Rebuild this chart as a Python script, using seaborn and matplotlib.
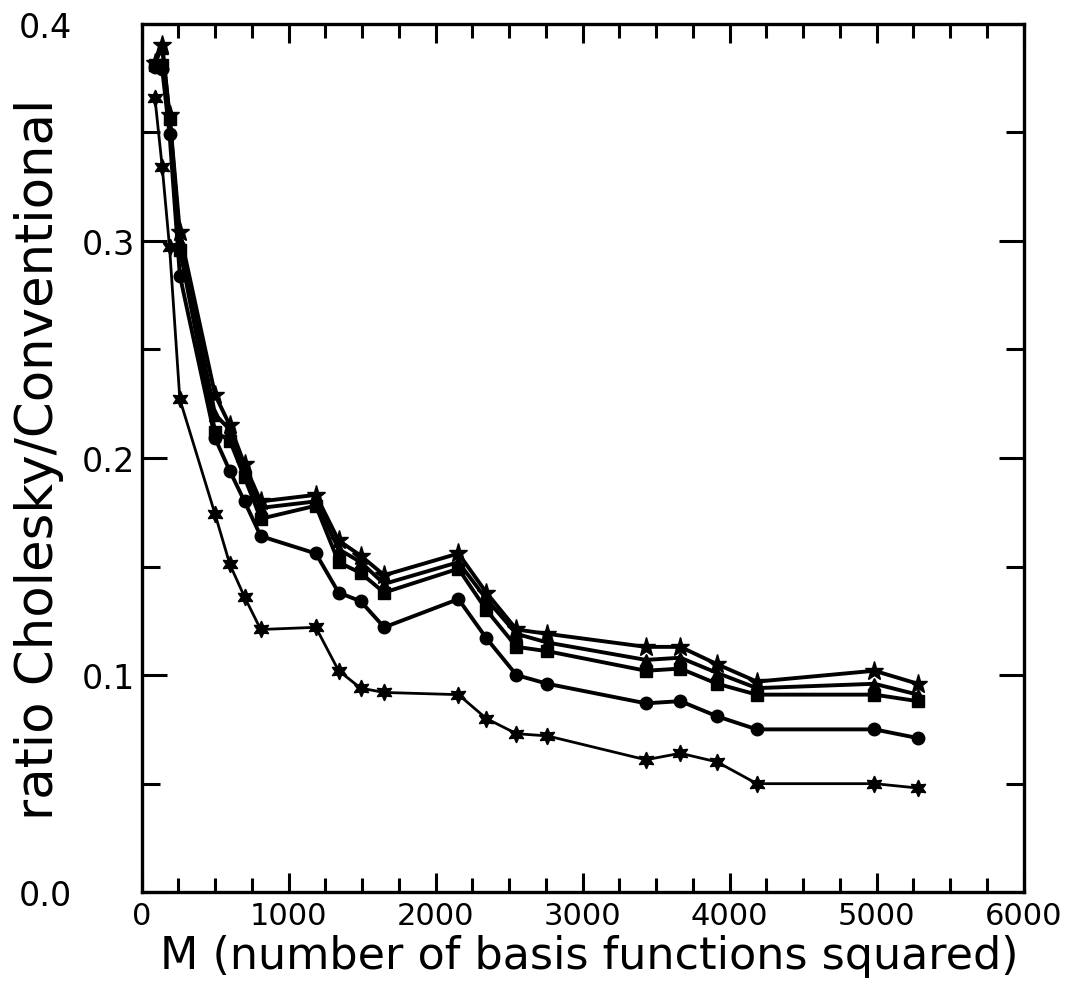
import matplotlib
matplotlib.use("Agg")
import matplotlib.pyplot as plt
import seaborn as sns
import pandas as pd
from matplotlib.ticker import MultipleLocator

# Data
M = [90, 140, 190, 260, 500, 600, 700, 810, 1185, 1340, 1490, 1650,
     2155, 2345, 2550, 2760, 3430, 3665, 3915, 4185, 4985, 5280]

ratio_star = [0.382, 0.390, 0.358, 0.304, 0.229, 0.215, 0.197, 0.180, 0.183, 0.162, 0.155,
              0.146, 0.156, 0.138, 0.121, 0.119, 0.113, 0.113, 0.105, 0.097, 0.102, 0.096]
ratio_triangle = [0.382, 0.389, 0.357, 0.300, 0.220, 0.213, 0.194, 0.177, 0.180, 0.158, 0.152,
                  0.142, 0.152, 0.135, 0.119, 0.115, 0.107, 0.108, 0.101, 0.094, 0.096, 0.091]
ratio_square = [0.381, 0.381, 0.356, 0.296, 0.212, 0.208, 0.191, 0.172, 0.178, 0.152, 0.147,
                0.138, 0.149, 0.130, 0.113, 0.111, 0.102, 0.103, 0.096, 0.091, 0.091, 0.088]
ratio_circle = [0.380, 0.379, 0.349, 0.284, 0.209, 0.194, 0.180, 0.164, 0.156, 0.138, 0.134,
                0.122, 0.135, 0.117, 0.100, 0.096, 0.087, 0.088, 0.081, 0.075, 0.075, 0.071]
ratio_asterisk = [0.366, 0.334, 0.297, 0.227, 0.174, 0.151, 0.136, 0.121, 0.122, 0.102, 0.094,
                  0.092, 0.091, 0.080, 0.073, 0.072, 0.061, 0.064, 0.060, 0.050, 0.050, 0.048]

x_ticks = [0, 1000, 2000, 3000, 4000, 5000, 6000]
y_ticks = [0.0, 0.1, 0.2, 0.3, 0.4]

sns.set_style("ticks")
plt.rcParams["font.family"] = ["DejaVu Sans"]

fig = plt.figure(figsize=(10.73, 9.87), dpi=100)
ax = fig.add_axes([0.132, 0.095, 0.822, 0.880])

series = [
    (ratio_star, "*", 14, 2.8),
    (ratio_triangle, "^", 9, 2.8),
    (ratio_square, "s", 8.5, 2.8),
    (ratio_circle, "o", 9, 2.8),
    (ratio_asterisk, (6, 1, 0), 12, 2.0),
]
for vals, mk, ms, lw in series:
    df = pd.DataFrame({"M": M, "ratio": vals})
    sns.lineplot(data=df, x="M", y="ratio", ax=ax, color="black", linewidth=lw,
                 marker=mk, markersize=ms, markeredgecolor="black",
                 markerfacecolor="black", markeredgewidth=1.0)

ax.set_xlim(0, 6000)
ax.set_ylim(0.0, 0.4)
ax.set_xticks(x_ticks)
ax.set_xticklabels([str(t) for t in x_ticks])
ax.set_yticks(y_ticks)
ax.set_yticklabels([f"{t:.1f}" for t in y_ticks])
ax.xaxis.set_minor_locator(MultipleLocator(250))
ax.yaxis.set_minor_locator(MultipleLocator(0.05))

ax.tick_params(axis="both", which="both", direction="in", top=True, right=True,
               width=2.2, colors="black", labelcolor="black")
ax.tick_params(axis="y", which="major", length=18, labelsize=24, pad=50)
ax.tick_params(axis="y", which="minor", length=13)
ax.tick_params(axis="x", which="major", length=14, labelsize=22, pad=6)
ax.tick_params(axis="x", which="minor", length=10)

# the inner labels (0.1 - 0.3) sit close to the axis, the end labels further out
for i, tk in enumerate(ax.yaxis.get_major_ticks()):
    if 0 < i < len(y_ticks) - 1:
        tk.set_pad(5)

for sp in ax.spines.values():
    sp.set_linewidth(2.4)
    sp.set_color("black")

ax.set_xlabel("M (number of basis functions squared)", fontsize=32, color="black")
ax.set_ylabel("ratio Cholesky/Conventional", fontsize=37, color="black")
ax.xaxis.set_label_coords(0.508, -0.048)
ax.yaxis.set_label_coords(-0.088, 0.5)

fig.savefig("out.png", dpi=100)
